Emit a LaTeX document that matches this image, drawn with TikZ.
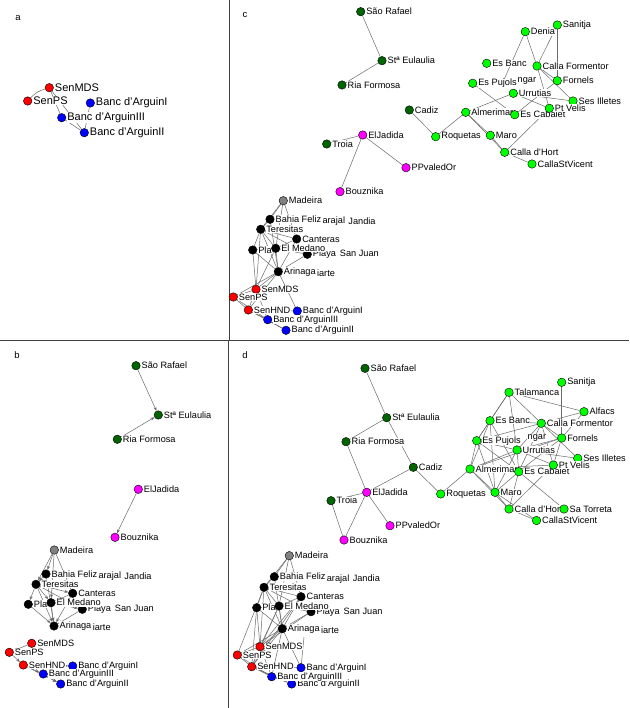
\documentclass[tikz,border=0pt]{standalone}
\usepackage{fontspec}
\setmainfont{Liberation Sans}
\usetikzlibrary{arrows.meta}
\pgfdeclarelayer{bg}\pgfsetlayers{bg,main}
\definecolor{dg}{RGB}{0,100,0}
\definecolor{lg}{RGB}{0,255,0}
\definecolor{mg}{RGB}{255,0,255}
\definecolor{rd}{RGB}{255,0,0}
\definecolor{bl}{RGB}{0,0,255}
\definecolor{gy}{RGB}{128,128,128}
\definecolor{bk}{RGB}{0,0,0}
\tikzset{
 vtx/.style={circle,draw=black,line width=0.4pt,minimum size=8.5pt,inner sep=0pt},
 lbl/.style={anchor=west,fill=white,inner sep=0.5pt,font=\fontsize{9.2}{10}\selectfont},
 lbla/.style={lbl,font=\fontsize{11}{12}\selectfont},
 txt/.style={lbl},
 edge/.style={draw=black!58,line width=0.5pt},
 aedge/.style={edge,-{Stealth[length=4pt,width=3pt]}},
 divider/.style={draw=black!75,line width=0.8pt},
 panel/.style={font=\fontsize{9.5}{11}\selectfont,inner sep=0pt},
}
\newcommand\V[6][lbl]{\node[vtx,fill=#5] (#2) at (#3,#4) {}; \node[#1] (#2-l) at ([xshift=0.5pt]#2.east) {#6};}
\begin{document}
\begin{tikzpicture}[x=1pt,y=-1pt]
\useasboundingbox (0,0) rectangle (629,708);
% dividers
\draw[divider] (229,0) -- (229,340);
\draw[divider] (228,340) -- (228,708);
\draw[divider] (0,340) -- (629,340);
% panel letters
\node[panel] (La) at (18,18) {a};
\node[panel] (Lc) at (245,15) {c};
\node[panel] (Lb) at (17,355) {b};
\node[panel] (Ld) at (245,355) {d};

% ================= panel a
\V[lbla]{aMDS}{49.3}{87.7}{rd}{SenMDS}
\V[lbla]{aPS}{27.7}{101}{rd}{SenPS}
\V[lbla]{aB1}{90.3}{103}{bl}{Banc d'ArguinI}
\V[lbla]{aB3}{61.7}{117.7}{bl}{Banc d'ArguinIII}
\V[lbla]{aB2}{84.3}{132.7}{bl}{Banc d'ArguinII}

% ================= panel b
\V{bSR}{136}{365.7}{dg}{São Rafael}
\V{bSE}{158.3}{415}{dg}{Stª Eulaulia}
\V{bRF}{117.3}{439.3}{dg}{Ria Formosa}
\V{bEJ}{138.3}{489.3}{mg}{ElJadida}
\V{bBo}{115}{537.3}{mg}{Bouznika}
\V{bMad}{54.3}{550}{gy}{Madeira}
\V{bBah}{46}{574}{bk}{Bahia Feliz}
\node[txt] (bTa) at ([yshift=-2pt]bBah-l.east) {arajal};
\node[txt] (bJa) at ([xshift=2pt]bTa.east) {Jandia};
\V{bTer}{36}{584.3}{bk}{Teresitas}
\V{bCan}{72.7}{593.3}{bk}{Canteras}
\V{bPSJ}{82.3}{609.3}{bk}{Playa\hspace{4pt}San Juan}
\V{bPla}{28.3}{604.3}{bk}{Pla}
\V{bMed}{51}{602.7}{bk}{El Medano}
\V{bAri}{54}{626}{bk}{Arinaga}
\node[txt] (bIa) at ([yshift=-1.5pt]bAri-l.east) {iarte};
\V{bMDS}{31.7}{643.3}{rd}{SenMDS}
\V{bPS}{9.3}{652.3}{rd}{SenPS}
\V{bB1}{72.7}{666}{bl}{Banc d'ArguinI}
\V{bHND}{23.3}{665}{rd}{SenHND}
\V{bB2}{60.7}{684}{bl}{Banc d'ArguinII}
\V{bB3}{43.3}{674}{bl}{Banc d'ArguinIII}

% ================= panel c
\V{cSR}{360.7}{11.7}{dg}{São Rafael}
\V{cSE}{382}{60.7}{dg}{Stª Eulaulia}
\V{cRF}{342}{85}{dg}{Ria Formosa}
\V{cCad}{409.3}{110}{dg}{Cadiz}
\V{cEJ}{362.7}{135}{mg}{ElJadida}
\V{cTro}{326.7}{144}{dg}{Troia}
\V{cPPv}{406}{167.7}{mg}{PPvaledOr}
\V{cBou}{340}{191.7}{mg}{Bouznika}
\V{cRoq}{435.7}{136.7}{lg}{Roquetas}
\V{cDen}{525.3}{31.7}{lg}{Denia}
\V{cSan}{557.3}{25}{lg}{Sanitja}
\V{cEsB}{486.7}{63.3}{lg}{Es Banc}
\V{cCF}{537}{66}{lg}{Calla Formentor}
\coordinate (cNgN) at (503,82);
\node[txt] (cNg) at (517,80.5) {ngar};
\V{cEsP}{472.7}{83.3}{lg}{Es Pujols}
\V{cFor}{557.3}{80.7}{lg}{Fornels}
\V{cUrr}{513.3}{93.3}{lg}{Urrutias}
\V{cSI}{573}{101}{lg}{Ses Illetes}
\V{cAlm}{465.7}{112.3}{lg}{Almerimar}
\V{cEC}{514.7}{114.7}{lg}{Es Cabalet}
\V{cPV}{549.3}{108.3}{lg}{Pt Velis}
\V{cMaro}{490.3}{135.3}{lg}{Maro}
\V{cCSV}{532}{164}{lg}{CallaStVicent}
\V{cCdH}{504.7}{152.3}{lg}{Calla d'Hort}
% cluster c
\V{cMad}{283.3}{200.7}{gy}{Madeira}
\V{cBah}{270}{219.3}{bk}{Bahia Feliz}
\node[txt] (cTa) at ([yshift=-2pt]cBah-l.east) {arajal};
\node[txt] (cJa) at ([xshift=2pt]cTa.east) {Jandia};
\V{cTer}{260.7}{229.3}{bk}{Teresitas}
\V{cCan}{296.7}{239}{bk}{Canteras}
\V{cPSJ}{307.3}{254.3}{bk}{Playa\hspace{4pt}San Juan}
\V{cPla}{252.7}{250}{bk}{Pla}
\V{cMed}{275.7}{248.3}{bk}{El Medano}
\V{cAri}{278.3}{271.7}{bk}{Arinaga}
\node[txt] (cIa) at ([yshift=-1.5pt]cAri-l.east) {iarte};
\V{cMDS}{256}{289.3}{rd}{SenMDS}
\V{cPS}{233.3}{297}{rd}{SenPS}
\V{cB1}{297.3}{311}{bl}{Banc d'ArguinI}
\V{cHND}{248.3}{310}{rd}{SenHND}
\V{cB2}{286}{330.3}{bl}{Banc d'ArguinII}
\V{cB3}{267.7}{319.7}{bl}{Banc d'ArguinIII}

% ================= panel d
\V{dSR}{365}{368.3}{dg}{São Rafael}
\V{dSE}{386.7}{417.7}{dg}{Stª Eulaulia}
\V{dRF}{346}{441.7}{dg}{Ria Formosa}
\V{dCad}{413.3}{467.3}{dg}{Cadiz}
\V{dEJ}{366.7}{492.3}{mg}{ElJadida}
\V{dTro}{331}{500.7}{dg}{Troia}
\V{dPPv}{390}{525.7}{mg}{PPvaledOr}
\V{dBou}{344}{540}{mg}{Bouznika}
\V{dRoq}{440.7}{494}{lg}{Roquetas}
\V{dSan}{561.7}{382.3}{lg}{Sanitja}
\V{dTal}{509}{392.3}{lg}{Talamanca}
\V{dAlf}{584}{411.7}{lg}{Alfacs}
\V{dEsB}{490}{420.7}{lg}{Es Banc}
\V{dCF}{541.3}{423.3}{lg}{Calla Formentor}
\node[txt] (dNg) at (527,438.3) {ngar};
\V{dEsP}{476.7}{440.7}{lg}{Es Pujols}
\V{dFor}{561.7}{438}{lg}{Fornels}
\V{dUrr}{517}{450}{lg}{Urrutias}
\V{dSI}{577.7}{458.3}{lg}{Ses Illetes}
\V{dAlm}{470}{469}{lg}{Almerimar}
\V{dEC}{518.7}{471.7}{lg}{Es Cabalet}
\V{dPV}{553.3}{465}{lg}{Pt Velis}
\V{dMaro}{495}{492.3}{lg}{Maro}
\V{dCSV}{536.5}{520.5}{lg}{CallaStVicent}
\V{dCdH}{509}{509}{lg}{Calla d'Hort}
\V{dST}{564}{509}{lg}{Sa Torreta}
% cluster d
\V{dMad}{289.3}{555.7}{gy}{Madeira}
\V{dBah}{274.3}{576.7}{bk}{Bahia Feliz}
\node[txt] (dTa) at ([yshift=-2pt]dBah-l.east) {arajal};
\node[txt] (dJa) at ([xshift=2pt]dTa.east) {Jandia};
\V{dTer}{264}{587.3}{bk}{Teresitas}
\V{dCan}{301}{596.7}{bk}{Canteras}
\V{dPSJ}{311}{611.7}{bk}{Playa\hspace{4pt}San Juan}
\V{dPla}{256.7}{607.7}{bk}{Pla}
\V{dMed}{279}{606}{bk}{El Medano}
\V{dAri}{282.3}{628.7}{bk}{Arinaga}
\node[txt] (dIa) at ([yshift=-1.5pt]dAri-l.east) {iarte};
\coordinate (dIaN) at (304,637);
\V{dMDS}{260}{646.7}{rd}{SenMDS}
\V{dPS}{237.3}{655}{rd}{SenPS}
\V{dB1}{301}{667.7}{bl}{Banc d'ArguinI}
\V{dHND}{251.7}{666.7}{rd}{SenHND}
\V{dB2}{291.7}{684}{bl}{Banc d'ArguinII}
\V{dB3}{271.7}{676.7}{bl}{Banc d'ArguinIII}

% ================= edges
\begin{pgfonlayer}{bg}
\fill[white] (0,0) rectangle (629,708);
% a
\draw[edge] (aPS) to[bend left=15] (aMDS);
\foreach \u/\v in {MDS/B3,MDS/B2,B3/B2,B1/B2}{\draw[edge] (a\u) -- (a\v);}
% b
\foreach \u/\v in {SR/SE,RF/SE,EJ/Bo}{\draw[aedge] (b\u) -- (b\v);}
\foreach \u/\v in {Mad/Bah,Mad/Ter,Mad/Can,Mad/Med,Bah/Ter,Ter/Pla,Ter/Med,Ter/Can,Ter/Ari,Ter/PSJ,Pla/Ari,Pla/Med,Med/Ari,Med/PSJ,Can/Ari,Can/Med,PSJ/Ari,Bah/Ari,MDS/PS,PS/HND,HND/B3,HND/B2,B3/B2,HND/B1}{\draw[aedge] (b\u) -- (b\v);}
% c and d common cluster
\foreach \p in {c,d}{
 \foreach \u/\v in {Mad/Bah,Mad/Ter,Mad/Can,Mad/Med,Bah/Ter,Ter/Pla,Ter/Med,Ter/Can,Ter/Ari,Ter/PSJ,Pla/Ari,Pla/Med,Med/Ari,Med/PSJ,Can/Ari,Can/Med,PSJ/Ari,Bah/Ari,MDS/PS,PS/HND,HND/B3,HND/B2,B3/B2,HND/B1,Pla/MDS,Ter/MDS,Ari/MDS,Ari/HND,Ari/PS,Ari/B1,Med/MDS,MDS/HND,MDS/B3,PS/B3}{\draw[edge] (\p\u) -- (\p\v);}
}
\foreach \u/\v in {Can/MDS,PSJ/MDS,Pla/HND,Ari/B3,Med/HND,Ter/PS,Can/HND}{\draw[edge] (d\u) -- (d\v);}
\draw[edge] (dIaN) -- (dB1);
% c top
\foreach \u/\v in {SR/SE,SE/RF,Cad/Roq,EJ/Bou,EJ/PPv,Tro/EJ}{\draw[edge] (c\u) -- (c\v);}
\draw[edge] (cDen) -- (cNgN);
\foreach \u/\v in {Den/CF,San/CF,San/For,CF/For,CF/SI,CF/PV,Urr/Alm,Urr/SI,Urr/PV,For/EC,EsP/EC,Alm/Roq,Alm/Maro,Alm/CdH,Maro/CdH,PV/CdH,CdH/CSV}{\draw[edge] (c\u) -- (c\v);}
% d top
\foreach \u/\v in {SR/SE,SE/RF,SE/Cad,RF/EJ,Cad/EJ,Cad/Roq,Tro/Bou,EJ/Bou,EJ/PPv,Tro/EJ}{\draw[edge] (d\u) -- (d\v);}
\foreach \u/\v in {Tal/EsP,Tal/CF,Tal/Alf,Tal/Urr,Tal/EsB,San/For,Alf/CF,Alf/For,EsB/CF,EsB/EsP,EsB/Alm,EsB/EC,EsB/Maro,CF/For,CF/SI,CF/PV,CF/Urr,CF/EC,CF/EsP,For/Urr,For/PV,For/EC,For/Alm,EsP/Alm,EsP/Maro,EsP/EC,EsP/Urr,Alm/Roq,Alm/Maro,Alm/CdH,Alm/Urr,Alm/PV,Urr/PV,Urr/SI,Urr/Maro,Urr/EC,EC/CdH,EC/ST,EC/Maro,Maro/CdH,Maro/CSV,CdH/CSV,PV/CdH}{\draw[edge] (d\u) -- (d\v);}
\end{pgfonlayer}
\end{tikzpicture}
\end{document}
